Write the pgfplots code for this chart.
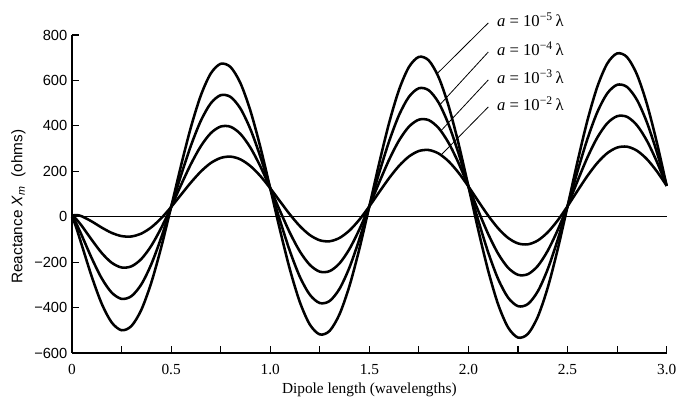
\documentclass[border=0pt]{standalone}
\usepackage{pgfplots}
\pgfplotsset{compat=1.18}
\usepackage{pgfplotstable}
\usepackage{fontspec}
\setmainfont{Liberation Serif}
\newfontfamily\sansf{Liberation Sans}

% Reactance X_m (ohms) vs dipole length (wavelengths) for four wire radii
\pgfplotstableread{
l     a5      a4      a3      a2
0     0       0       0       0
0.01  -19.7   -11.0   -2.3    6.4
0.025 -57.5   -35.9   -14.3   7.3
0.05  -126.5  -83.8   -41.1   1.6
0.10  -264.7  -183.5  -102.3  -21.1
0.15  -383.2  -271.4  -159.7  -47.9
0.20  -465.3  -333.9  -202.5  -71.1
0.25  -499.8  -361.7  -223.5  -85.3
0.30  -481.1  -349.7  -218.4  -87.0
0.35  -409.4  -297.6  -185.9  -74.1
0.40  -290.4  -209.2  -128.0  -46.8
0.45  -134.9  -92.2   -49.5   -6.8
0.50  42.5    42.5    42.5    42.5
0.55  224.9   182.2   139.5   96.8
0.60  394.3   313.1   231.9   150.7
0.65  534.1   422.4   310.6   198.8
0.70  630.5   499.1   367.7   236.3
0.75  673.2   535.0   396.9   258.7
0.80  658.7   527.3   395.9   264.5
0.85  587.6   475.8   364.1   252.3
0.90  466.6   385.4   304.2   223.0
0.95  307.5   264.8   222.1   179.4
1.00  125.4   125.4   125.4   125.4
1.05  -61.2   -18.5   24.2    66.9
1.10  -234.5  -153.3  -72.1   9.1
1.15  -377.1  -265.4  -153.6  -41.8
1.20  -475.0  -343.6  -212.2  -80.8
1.25  -518.2  -380.1  -241.9  -103.8
1.30  -502.3  -370.9  -239.5  -108.1
1.35  -428.6  -316.8  -205.1  -93.3
1.40  -304.1  -222.9  -141.7  -60.5
1.45  -140.7  -98.0   -55.4   -12.7
1.50  45.5    45.5    45.5    45.5
1.55  236.6   193.9   151.2   108.5
1.60  413.6   332.4   251.2   170.0
1.65  559.3   447.6   335.8   224.0
1.70  659.3   527.9   396.5   265.1
1.75  703.6   565.5   427.3   289.2
1.80  687.8   556.4   425.0   293.6
1.85  613.3   501.5   389.7   278.0
1.90  487.2   406.0   324.8   243.6
1.95  321.8   279.1   236.4   193.7
2.00  133.1   133.1   133.1   133.1
2.05  -60.2   -17.5   25.2    67.9
2.10  -239.3  -158.1  -76.9   4.3
2.15  -386.6  -274.8  -163.1  -51.3
2.20  -487.5  -356.1  -224.7  -93.3
2.25  -532.1  -393.9  -255.8  -117.6
2.30  -515.8  -384.4  -253.0  -121.6
2.35  -440.1  -328.3  -216.5  -104.7
2.40  -312.2  -231.0  -149.8  -68.6
2.45  -144.7  -102.0  -59.3   -16.6
2.50  46.2    46.2    46.2    46.2
2.55  241.7   199.1   156.4   113.7
2.60  422.9   341.7   260.5   179.3
2.65  571.8   460.0   348.2   236.5
2.70  673.8   542.4   411.0   279.6
2.75  718.9   580.7   442.5   304.4
2.80  702.5   571.1   439.7   308.3
2.85  626.1   514.3   402.6   290.8
2.90  497.2   416.0   334.8   253.6
2.95  328.3   285.6   242.9   200.2
3.00  135.8   135.8   135.8   135.8
}\reactance

\begin{document}
\begin{tikzpicture}
\begin{axis}[
  scale only axis,
  width=446pt, height=238.5pt,
  xmin=0, xmax=3, ymin=-600, ymax=800,
  axis x line*=bottom, axis y line*=left,
  axis line style={line width=1.2pt},
  xtick={0,0.5,1,1.5,2,2.5,3},
  xticklabels={0,0.5,1.0,1.5,2.0,2.5,3.0},
  minor xtick={0.25,0.75,1.25,1.75,2.25,2.75},
  ytick={-600,-400,-200,0,200,400,600,800},
  yticklabels={−600,−400,−200,0,200,400,600,800},
  tick align=inside,
  major tick length=5.5pt, minor tick length=5.5pt,
  every tick/.style={black, line width=0.9pt},
  xticklabel style={font=\fontsize{11.5}{13}\selectfont, yshift=-5pt},
  yticklabel style={font=\sansf\fontsize{11}{13}\selectfont},
  xlabel={Dipole length (wavelengths)},
  xlabel style={at={(axis description cs:0.5,0)}, anchor=north, yshift=-19pt,
                font=\fontsize{11.5}{13}\selectfont},
  ylabel={Reactance \textit{X}\textsubscript{\textit{m}}\ \ (ohms)},
  ylabel style={at={(axis description cs:-0.09,0.46)}, anchor=center,
                font=\sansf\fontsize{11.5}{13}\selectfont},
  clip=false,
]
\addplot[black, line width=0.6pt] coordinates {(0,0) (3,0)};
\addplot[black, line width=1.9pt, smooth] table[x=l, y=a5] {\reactance};
\addplot[black, line width=1.9pt, smooth] table[x=l, y=a4] {\reactance};
\addplot[black, line width=1.9pt, smooth] table[x=l, y=a3] {\reactance};
\addplot[black, line width=1.9pt, smooth] table[x=l, y=a2] {\reactance};

\draw[line width=0.6pt] (axis cs:1.84,628) -- (axis cs:2.10,853)
  node[anchor=base west, xshift=3pt, yshift=-2.4pt, font=\fontsize{12.5}{14}\selectfont]
  {\textit{a} = 10\textsuperscript{−5}\,λ};
\draw[line width=0.6pt] (axis cs:1.855,492) -- (axis cs:2.10,725)
  node[anchor=base west, xshift=3pt, yshift=-2.4pt, font=\fontsize{12.5}{14}\selectfont]
  {\textit{a} = 10\textsuperscript{−4}\,λ};
\draw[line width=0.6pt] (axis cs:1.86,377) -- (axis cs:2.10,602)
  node[anchor=base west, xshift=3pt, yshift=-2.4pt, font=\fontsize{12.5}{14}\selectfont]
  {\textit{a} = 10\textsuperscript{−3}\,λ};
\draw[line width=0.6pt] (axis cs:1.86,270) -- (axis cs:2.10,483)
  node[anchor=base west, xshift=3pt, yshift=-2.4pt, font=\fontsize{12.5}{14}\selectfont]
  {\textit{a} = 10\textsuperscript{−2}\,λ};
\end{axis}
\pgfresetboundingbox
\path (-54pt,-34.5pt) rectangle (457.5pt,264.75pt);
\end{tikzpicture}
\end{document}
